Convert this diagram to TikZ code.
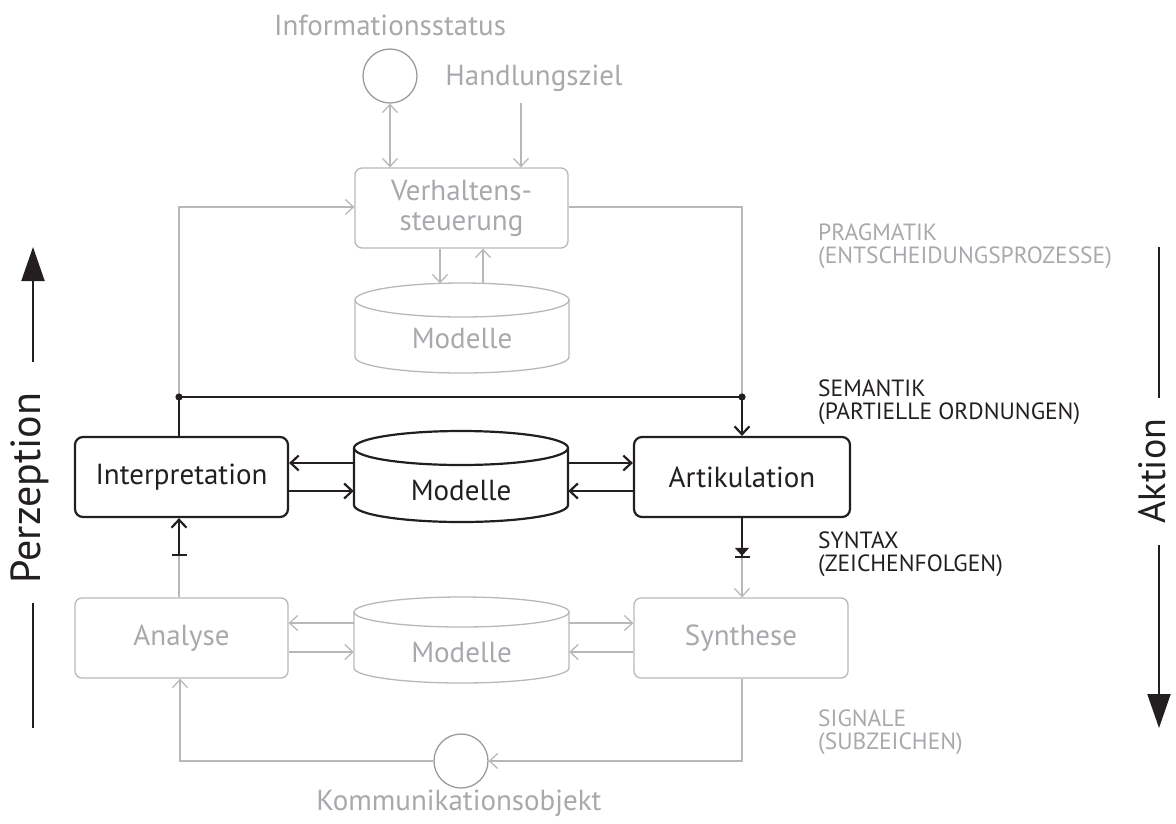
\documentclass[tikz,border=0pt]{standalone}
\usepackage{fontspec}
\setmainfont{PT Sans}
\usetikzlibrary{arrows.meta}
\definecolor{ink}{HTML}{231F20}
\definecolor{lgray}{HTML}{B7B8BA}
\definecolor{gtext}{HTML}{A7A9AC}
\definecolor{cgray}{HTML}{9A9A9C}
\begin{document}
\begin{tikzpicture}[x=1pt,y=-1pt,
  gline/.style={draw=lgray,line width=1.3pt},
  bline/.style={draw=ink,line width=2.2pt},
  barb/.style={-{Straight Barb[length=8pt,width=15pt]}},
  garr/.style={gline,barb},
  barr/.style={bline,barb},
  gtxt/.style={text=gtext,font=\fontsize{29}{30}\selectfont,inner sep=0pt},
  btxt/.style={text=ink,font=\fontsize{29}{30}\selectfont,inner sep=0pt},
  gbox/.style={gtxt,draw=lgray,line width=1.3pt,rounded corners=7pt,align=center},
  bbox/.style={btxt,draw=ink,line width=2.2pt,rounded corners=8pt},
  ring/.style={circle,draw=cgray,line width=1.3pt,minimum size=54pt,inner sep=0pt},
  level/.style={anchor=west,align=left,inner sep=0pt,font=\fontsize{23.5}{23}\selectfont},
  side/.style={text=ink,rotate=90,inner sep=0pt},
  big/.style={draw=ink,line width=2pt},
]
\useasboundingbox (0,0) rectangle (1176,823);

% ---------- pragmatic layer ----------
\node[gtxt] (info) at (390,25) {Informationsstatus};
\node[ring] (ic) at (390,76) {};
\node[gtxt] (hz) at (534,78) {Handlungsziel};
\coordinate (hzfoot) at (521,103);
\node[gbox,minimum width=213pt,minimum height=80pt] (vs) at (461.5,208)
  {Verhaltens-\\steuerung};
\draw[gline,{Straight Barb[length=8pt,width=15pt]}-{Straight Barb[length=8pt,width=15pt]}]
  (ic.south) -- (vs.north -| ic.south);
\draw[garr] (hzfoot) -- (vs.north -| hzfoot);

% upper model store
\node[gtxt,minimum width=214pt] (m1) at (462,339) {Modelle};
\draw[gline] (355,300) -- (355,357) arc[start angle=180,end angle=0,x radius=107,y radius=16] -- (569,300);
\draw[gline] (462,300) ellipse[x radius=107,y radius=17];
\coordinate (m1a) at (440,283.4);
\coordinate (m1b) at (483,283.9);
\draw[garr] (vs.south -| m1a) -- (m1a);
\draw[garr] (m1b) -- (vs.south -| m1b);

% ---------- semantic layer ----------
\node[bbox,minimum width=213pt,minimum height=80pt] (int) at (181.5,477) {Interpretation};
\node[bbox,minimum width=216pt,minimum height=80pt] (art) at (742,477) {Artikulation};
\node[btxt,minimum width=214pt] (m2) at (461,491) {Modelle};
\draw[bline] (354,448) -- (354,505) arc[start angle=180,end angle=0,x radius=107,y radius=17] -- (568,448);
\draw[bline] (461,448) ellipse[x radius=107,y radius=17];
\draw[barr] (m2.west |- 0,463) -- (int.east |- 0,463);
\draw[barr] (int.east |- 0,491) -- (m2.west |- 0,491);
\draw[barr] (m2.east |- 0,463) -- (art.west |- 0,463);
\draw[barr] (art.west |- 0,491) -- (m2.east |- 0,491);

\coordinate (jl) at (179,397);
\coordinate (jr) at (742,397);
\coordinate (tl) at (179,207);
\coordinate (tr) at (742,207);
\draw[garr] (jl) -- (tl) -- (vs.west |- tl);
\draw[gline] (vs.east |- tr) -- (tr) -- (jr);
\draw[bline] (int.north -| jl) -- (jl) -- (jr);
\draw[barr] (jr) -- (art.north -| jr);
\fill[ink] (jl) circle[radius=3.6];
\fill[ink] (jr) circle[radius=3.6];

% ---------- syntactic layer ----------
\node[gbox,minimum width=213pt,minimum height=80pt] (ana) at (181.5,638) {Analyse};
\node[gbox,minimum width=214pt,minimum height=80pt] (syn) at (741,638) {Synthese};
\node[gtxt,minimum width=215pt] (m3) at (461.5,653) {Modelle};
\draw[gline] (354,612) -- (354,668) arc[start angle=180,end angle=0,x radius=107.5,y radius=15] -- (569,612);
\draw[gline] (461.5,612) ellipse[x radius=107.5,y radius=15];
\draw[garr] (m3.west |- 0,623) -- (ana.east |- 0,623);
\draw[garr] (ana.east |- 0,652) -- (m3.west |- 0,652);
\draw[garr] (m3.east |- 0,623) -- (syn.west |- 0,623);
\draw[garr] (syn.west |- 0,652) -- (m3.east |- 0,652);

\coordinate (ib) at (179,556);
\coordinate (ab) at (742,558);
\draw[gline] (ana.north -| ib) -- (ib);
\draw[bline,{Bar[width=15pt]}-{Straight Barb[length=8pt,width=15pt]}] (ib) -- (int.south -| ib);
\draw[bline,-{Triangle[length=8pt,width=14pt] Bar[width=15pt]}] (art.south -| ab) -- (ab);
\draw[garr] (ab) -- (syn.north -| ab);

% ---------- signal layer ----------
\node[ring] (kc) at (461,761) {};
\node[gtxt] (ko) at (459,803) {Kommunikationsobjekt};
\coordinate (br) at (742,761);
\coordinate (bl) at (180,761);
\draw[garr] (syn.south -| br) -- (br) -- (kc.east);
\draw[garr] (kc.west) -- (bl) -- (ana.south -| bl);

% ---------- level labels ----------
\node[level,text=gtext] (lp) at (818,246) {PRAGMATIK\\(ENTSCHEIDUNGSPROZESSE)};
\node[level,text=ink] (ls) at (818,402) {SEMANTIK\\(PARTIELLE ORDNUNGEN)};
\node[level,text=ink] (lx) at (818,554) {SYNTAX\\(ZEICHENFOLGEN)};
\node[level,text=gtext] (lg) at (818,732) {SIGNALE\\(SUBZEICHEN)};

% ---------- direction arrows ----------
\node[side,font=\fontsize{42}{44}\selectfont] (perz) at (30,488) {Perzeption};
\coordinate (pu1) at (33,362);
\coordinate (pu2) at (33,247);
\coordinate (pd1) at (33,603);
\coordinate (pd2) at (33,728);
\draw[big,-{Triangle[length=34pt,width=23pt]}] (pu1) -- (pu2);
\draw[big] (pd1) -- (pd2);

\node[side,font=\fontsize{38}{40}\selectfont] (akt) at (1152,471) {Aktion};
\coordinate (au1) at (1159,247);
\coordinate (au2) at (1159,398);
\coordinate (ad1) at (1159,545);
\coordinate (ad2) at (1159,728);
\draw[big] (au1) -- (au2);
\draw[big,-{Triangle[length=34pt,width=23pt]}] (ad1) -- (ad2);
\end{tikzpicture}
\end{document}
